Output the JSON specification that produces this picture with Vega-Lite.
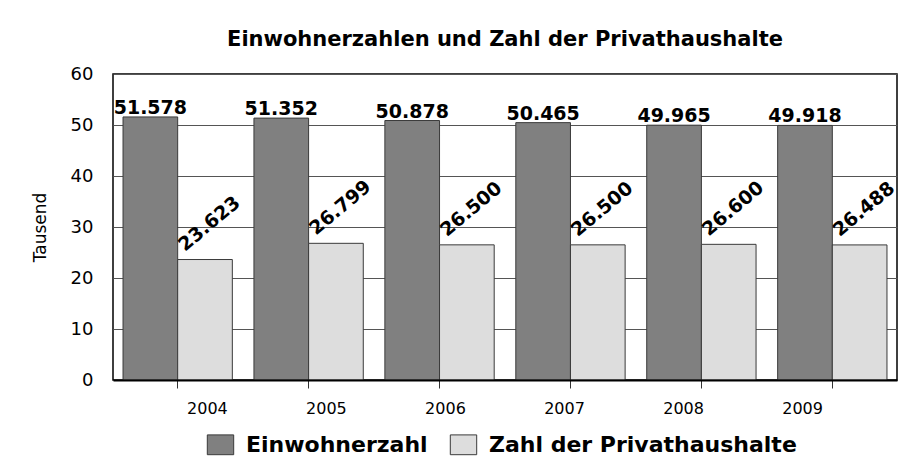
{
  "$schema": "https://vega.github.io/schema/vega-lite/v6.json",
  "width": 784,
  "height": 306,
  "autosize": {"type": "none"},
  "padding": {"left": 113, "top": 74, "right": 4, "bottom": 86},
  "background": "white",
  "title": {
    "text": "Einwohnerzahlen und Zahl der Privathaushalte",
    "font": "DejaVu Sans",
    "fontSize": 21,
    "fontWeight": "bold",
    "color": "black",
    "anchor": "middle",
    "offset": 15
  },
  "config": {
    "view": {"stroke": "#000000", "strokeWidth": 1.5},
    "font": "DejaVu Sans"
  },
  "data": {
    "values": [
      {"year": "2004", "series": "Einwohnerzahl", "value": 51.578},
      {"year": "2005", "series": "Einwohnerzahl", "value": 51.352},
      {"year": "2006", "series": "Einwohnerzahl", "value": 50.878},
      {"year": "2007", "series": "Einwohnerzahl", "value": 50.465},
      {"year": "2008", "series": "Einwohnerzahl", "value": 49.965},
      {"year": "2009", "series": "Einwohnerzahl", "value": 49.918},
      {"year": "2004", "series": "Zahl der Privathaushalte", "value": 23.623},
      {"year": "2005", "series": "Zahl der Privathaushalte", "value": 26.799},
      {"year": "2006", "series": "Zahl der Privathaushalte", "value": 26.5},
      {"year": "2007", "series": "Zahl der Privathaushalte", "value": 26.5},
      {"year": "2008", "series": "Zahl der Privathaushalte", "value": 26.6},
      {"year": "2009", "series": "Zahl der Privathaushalte", "value": 26.488}
    ]
  },
  "layer": [
    {
      "encoding": {
        "x": {
          "field": "year",
          "type": "nominal",
          "scale": {"paddingInner": 0.165, "paddingOuter": 0.0765},
          "axis": {
            "orient": "bottom",
            "title": null,
            "labels": false,
            "ticks": true,
            "tickSize": 8,
            "tickColor": "#333333",
            "domain": true,
            "domainColor": "black",
            "domainWidth": 2,
            "grid": false,
            "zindex": 1
          }
        },
        "xOffset": {
          "field": "series",
          "scale": {"domain": ["Einwohnerzahl", "Zahl der Privathaushalte"]}
        },
        "y": {
          "field": "value",
          "type": "quantitative",
          "scale": {"domain": [0, 60], "nice": false},
          "axis": {
            "title": "Tausend",
            "titleFont": "DejaVu Sans",
            "titleFontSize": 17,
            "titleFontWeight": "normal",
            "titleColor": "black",
            "titlePadding": 21,
            "labelFont": "DejaVu Sans",
            "labelFontSize": 18,
            "labelColor": "black",
            "labelPadding": 20,
            "ticks": false,
            "domain": false,
            "grid": true,
            "gridColor": "#555555",
            "gridWidth": 1,
            "values": [0, 10, 20, 30, 40, 50, 60]
          }
        }
      },
      "layer": [
        {
          "mark": {"type": "bar", "stroke": "#3a3a3a", "strokeWidth": 1},
          "encoding": {
            "color": {
              "field": "series",
              "type": "nominal",
              "scale": {
                "domain": ["Einwohnerzahl", "Zahl der Privathaushalte"],
                "range": ["#808080", "#dddddd"]
              },
              "legend": {
                "title": null,
                "orient": "none",
                "legendX": 96,
                "legendY": 359,
                "direction": "horizontal",
                "symbolType": "M-1.2,-0.9H1.2V0.9H-1.2Z",
                "symbolSize": 484,
                "symbolStrokeColor": "#3a3a3a",
                "symbolStrokeWidth": 1,
                "symbolOpacity": 1,
                "labelFont": "DejaVu Sans",
                "labelFontSize": 22,
                "labelFontWeight": "bold",
                "labelColor": "black",
                "labelOffset": 14,
                "columnPadding": 20,
                "padding": 0,
                "labelLimit": 0
              }
            }
          }
        },
        {
          "transform": [{"filter": "datum.series === 'Einwohnerzahl'"}],
          "mark": {
            "type": "text",
            "font": "DejaVu Sans",
            "fontSize": 19,
            "fontWeight": "bold",
            "color": "black",
            "align": "center",
            "baseline": "alphabetic",
            "dy": -3
          },
          "encoding": {
            "text": {"field": "value", "type": "quantitative", "format": ".3f"}
          }
        },
        {
          "transform": [{"filter": "datum.series === 'Zahl der Privathaushalte'"}],
          "mark": {
            "type": "text",
            "font": "DejaVu Sans",
            "fontSize": 19,
            "fontWeight": "bold",
            "color": "black",
            "align": "left",
            "baseline": "alphabetic",
            "angle": -40,
            "dx": -10.4,
            "dy": -18.6
          },
          "encoding": {
            "text": {"field": "value", "type": "quantitative", "format": ".3f"}
          }
        }
      ]
    },
    {
      "transform": [{"filter": "datum.series === 'Einwohnerzahl'"}],
      "mark": {"type": "text", "opacity": 0},
      "encoding": {
        "x": {
          "field": "year",
          "type": "nominal",
          "scale": {"type": "band", "paddingInner": 0, "paddingOuter": 0.293},
          "axis": {
            "orient": "bottom",
            "title": null,
            "labelFont": "DejaVu Sans",
            "labelFontSize": 16,
            "labelColor": "black",
            "labelAngle": 0,
            "labelPadding": 20,
            "ticks": false,
            "tickSize": 0,
            "domain": false,
            "grid": false
          }
        },
        "text": {"value": ""}
      }
    }
  ],
  "resolve": {"scale": {"x": "independent"}, "axis": {"x": "independent"}}
}
